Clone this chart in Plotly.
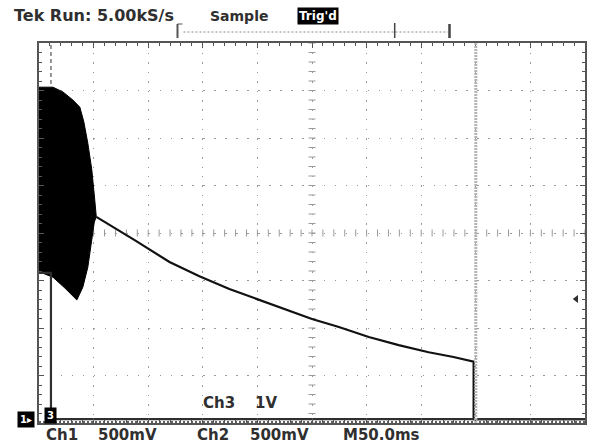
#!/bin/env python
"""
Tek scope capture: Ch3 burst followed by an exponential-ish decay, Ch1/Ch2 at ground.
"""
import plotly.graph_objects as go

# time base: M 50.0 ms/div, 10 divisions
time_per_div = 50.0
volts_ch3 = 1.0    # Ch3 1V/div
volts_ch1 = 0.5    # Ch1 500mV/div

# Ch3 burst envelope (ms, V)
burst_t_upper = [0.0, 2.74, 12.77, 21.90, 31.02, 37.41, 41.06, 44.71, 48.36, 51.09, 52.46]
burst_v_upper = [7.07, 7.07, 7.07, 6.97, 6.80, 6.65, 6.34, 5.89, 5.33, 4.69, 4.34]
burst_t_lower = [0.0, 2.74, 12.77, 23.72, 34.67, 40.15, 44.71, 48.36, 50.64, 52.46]
burst_v_lower = [3.16, 3.16, 3.07, 2.84, 2.59, 2.86, 3.28, 3.85, 4.23, 4.34]

# Ch3 after the burst (ms, V)
decay_t = [52.5, 64.8, 87.6, 119.5, 146.9, 174.3, 201.6, 229.0, 250.0, 274.6,
           302.0, 329.4, 356.8, 379.6, 397.0, 398.0, 398.0, 500.0]
decay_v = [4.34, 4.17, 3.85, 3.39, 3.09, 2.82, 2.59, 2.36, 2.19, 2.02,
           1.81, 1.64, 1.49, 1.39, 1.31, 1.29, 0.08, 0.08]

# Ch1 and Ch2 (ms, V)
ch1_t = [0.0, 10.95, 10.95, 500.0]
ch1_v = [1.58, 1.58, 0.04, 0.04]
ch2_t = [0.0, 500.0]
ch2_v = [0.01, 0.01]

trigger_t = 10.95
trigger_level = 2.61
cursor_t = 400.0

PLOT_L, PLOT_R, PLOT_T, PLOT_B = 39, 587, 43, 423
INK = "#2f2f2f"
FONT = "DejaVu Sans"


def px_x(px):
    return (px - PLOT_L) / (PLOT_R - PLOT_L)


def px_y(py):
    return (PLOT_B - py) / (PLOT_B - PLOT_T)


def label(text, x, y, size=15, color=INK, bg=None, pad=0):
    return dict(
        text=text, x=px_x(x), y=px_y(y), xref="paper", yref="paper",
        xanchor="left", yanchor="middle", showarrow=False,
        font=dict(family=FONT, size=size, color=color, weight="bold"),
        bgcolor=bg, borderpad=pad,
    )


def vline_px(x, y0, y1, width=1, color=INK, dash=None):
    return dict(type="line", xref="paper", yref="paper",
                x0=px_x(x), x1=px_x(x), y0=px_y(y0), y1=px_y(y1),
                line=dict(color=color, width=width, dash=dash))


def hline_px(x0, x1, y, width=1, color=INK, dash=None):
    return dict(type="line", xref="paper", yref="paper",
                x0=px_x(x0), x1=px_x(x1), y0=px_y(y), y1=px_y(y),
                line=dict(color=color, width=width, dash=dash))


figure = go.Figure()

# graticule centre ticks
centre_t = time_per_div * 5
figure.add_trace(go.Scatter(
    x=[centre_t] * 41, y=[i * 0.2 for i in range(41)], mode="markers",
    marker=dict(symbol="line-ew", size=5, line=dict(width=1, color="#999")),
    hoverinfo="skip", showlegend=False))
figure.add_trace(go.Scatter(
    x=[i * 10 for i in range(51)], y=[4] * 51, mode="markers",
    marker=dict(symbol="line-ns", size=5, line=dict(width=1, color="#999")),
    hoverinfo="skip", showlegend=False))

# Ch2 and Ch1 traces
figure.add_trace(go.Scatter(
    x=ch2_t, y=ch2_v, yaxis="y2", mode="lines",
    line=dict(color=INK, width=1.5, dash="2px,2px"), showlegend=False))
figure.add_trace(go.Scatter(
    x=ch1_t, y=ch1_v, yaxis="y2", mode="lines",
    line=dict(color=INK, width=2.2), showlegend=False))

# Ch3 burst (filled envelope) and decay
figure.add_trace(go.Scatter(
    x=burst_t_upper + burst_t_lower[::-1],
    y=burst_v_upper + burst_v_lower[::-1],
    mode="lines", fill="toself", fillcolor="#000",
    line=dict(color="#000", width=1), showlegend=False))
figure.add_trace(go.Scatter(
    x=decay_t, y=decay_v, mode="lines",
    line=dict(color="#111", width=2.2), showlegend=False))

# trigger level marker on the right edge
figure.add_trace(go.Scatter(
    x=[492], y=[trigger_level], mode="markers",
    marker=dict(symbol="triangle-left", size=7, color=INK),
    showlegend=False))

axis_common = dict(
    showticklabels=False, ticks="inside", ticklen=5, tickcolor="#555",
    showline=True, linecolor="#555", linewidth=1.5, mirror="ticks",
    showgrid=True, gridcolor="#9a9a9a", gridwidth=1.3, zeroline=False,
    fixedrange=True,
)

figure.update_layout(
    width=593, height=445, autosize=False,
    margin=dict(l=PLOT_L, r=593 - PLOT_R, t=PLOT_T, b=445 - PLOT_B),
    paper_bgcolor="white", plot_bgcolor="white",
    xaxis=dict(range=[0, time_per_div * 10], dtick=time_per_div,
               griddash="1.5px,8px",
               minor=dict(dtick=time_per_div / 5, ticks="inside", ticklen=3,
                          tickcolor="#555", showgrid=False),
               **axis_common),
    yaxis=dict(range=[0, 8 * volts_ch3], dtick=volts_ch3,
               griddash="1.5px,9.46px",
               minor=dict(dtick=volts_ch3 / 5, ticks="inside", ticklen=3,
                          tickcolor="#555", showgrid=False),
               **axis_common),
    yaxis2=dict(range=[0, 8 * volts_ch1], overlaying="y", visible=False,
                fixedrange=True),
    showlegend=False,
)

# vertical cursor and trigger position line
figure.add_shape(type="line", x0=cursor_t, x1=cursor_t, y0=0, y1=1,
                 xref="x", yref="paper",
                 line=dict(color="#b5b5b5", width=3, dash="2px,1px"))
figure.add_shape(type="line", x0=trigger_t, x1=trigger_t, y0=px_y(45), y1=px_y(86),
                 xref="x", yref="paper",
                 line=dict(color="#777", width=1.5, dash="4px,3px"))

# record bar above the graticule
figure.add_shape(**hline_px(184, 450, 32, width=1, color="#888", dash="2px,2px"))
figure.add_shape(**vline_px(178, 24, 38, width=2, color="#555"))
figure.add_shape(**hline_px(178, 183, 24, width=1, color="#555"))
figure.add_shape(**vline_px(396, 23, 38, width=1.5, color="#444"))
figure.add_shape(**vline_px(451, 24, 38, width=2.5, color="#444"))

annotations = [
    label("Tek Run: 5.00kS/s", 13, 16, size=16),
    label("Sample", 210, 16, size=14),
    label("Trig'd", 298, 16, size=12, color="white", bg="black", pad=1),
    label("Ch3", 203, 403),
    label("1V", 255, 403),
    label("Ch1", 45, 435),
    label("500mV", 97, 435),
    label("Ch2", 197, 435),
    label("500mV", 250, 435),
    label("M50.0ms", 343, 435),
    label("1\u25b8", 17, 419, size=10, color="white", bg="black", pad=2),
    label("3", 44, 415, size=10, color="white", bg="black", pad=2),
]
figure.update_layout(annotations=annotations)

figure.write_html(
    "out.html",
    config={"displayModeBar": False},
    post_script="document.body.style.margin='0';"
                "document.body.style.overflow='hidden';",
)
